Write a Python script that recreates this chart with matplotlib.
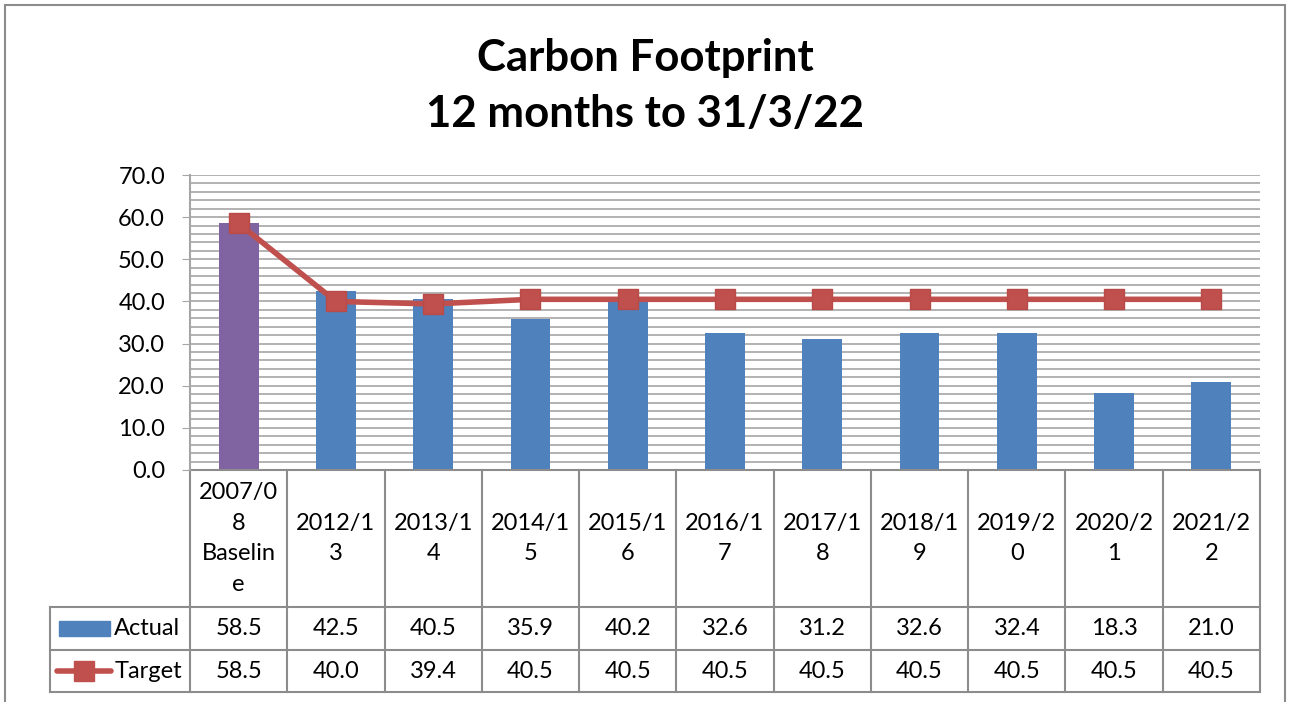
import matplotlib.pyplot as plt
from matplotlib.patches import Rectangle
from matplotlib.lines import Line2D
from matplotlib.transforms import blended_transform_factory

categories = ['2007/0\n8\nBaselin\ne', '2012/1\n3', '2013/1\n4', '2014/1\n5', '2015/1\n6',
              '2016/1\n7', '2017/1\n8', '2018/1\n9', '2019/2\n0', '2020/2\n1', '2021/2\n2']
actual = [58.5, 42.5, 40.5, 35.9, 40.2, 32.6, 31.2, 32.6, 32.4, 18.3, 21.0]
target = [58.5, 40.0, 39.4, 40.5, 40.5, 40.5, 40.5, 40.5, 40.5, 40.5, 40.5]
bar_colors = ['#8064A2'] + ['#4F81BD'] * (len(actual) - 1)

plt.rcParams['font.family'] = ['Lato', 'DejaVu Sans']
W, H = 1290, 702
fs = 17
fig = plt.figure(figsize=(W / 100, H / 100), dpi=100)

# outer chart frame
fig.patches.append(Rectangle((5 / W, -0.05), 1280 / W, 1.05 - 5 / H, transform=fig.transFigure,
                             fill=False, edgecolor='#8C8C8C', linewidth=1.5))

left, right, top, bottom = 190, 1260, 175, 470
ax = fig.add_axes([left / W, 1 - bottom / H, (right - left) / W, (bottom - top) / H])

x = list(range(len(categories)))
ax.bar(x, actual, width=0.41, color=bar_colors, zorder=2)
ax.plot(x, target, color='#C0504D', linewidth=4, marker='s', markersize=14,
        markerfacecolor='#C0504D', markeredgecolor='#B84A47', zorder=3)

ax.set_xlim(-0.5, len(categories) - 0.5)
ax.set_ylim(0, 70)
ax.set_yticks(range(0, 71, 10))
ax.set_yticklabels([f'{v:.1f}' for v in range(0, 71, 10)], fontsize=fs)
ax.set_yticks(range(0, 71, 2), minor=True)
ax.grid(axis='y', which='both', color='#A6A6A6', linewidth=1.2, zorder=0)
ax.set_axisbelow(True)
ax.tick_params(axis='y', which='major', length=6, color='#A6A6A6', pad=12)
ax.tick_params(axis='y', which='minor', length=0)
ax.set_xticks([])
for s in ['top', 'right', 'bottom']:
    ax.spines[s].set_visible(False)
ax.spines['left'].set_color('#A6A6A6')
ax.spines['left'].set_linewidth(1.5)

# data table under the plot
tr = blended_transform_factory(ax.transData, ax.transAxes)
ph = bottom - top
def yfrac(py):
    return (bottom - py) / ph

y_hdr, y_act, y_tgt = yfrac(607), yfrac(650), yfrac(692)
x_leg = -0.5 - (left - 50) / ((right - left) / len(categories))
gc = '#8C8C8C'
def hline(x0, x1, y):
    ax.add_line(Line2D([x0, x1], [y, y], transform=tr, color=gc, lw=1.5, clip_on=False))
def vline(xv, y0, y1):
    ax.add_line(Line2D([xv, xv], [y0, y1], transform=tr, color=gc, lw=1.5, clip_on=False))

n = len(categories)
hline(-0.5, n - 0.5, 0)
hline(x_leg, n - 0.5, y_hdr)
hline(x_leg, n - 0.5, y_act)
hline(x_leg, n - 0.5, y_tgt)
for i in range(n + 1):
    vline(i - 0.5, 0, y_tgt)
vline(x_leg, y_hdr, y_tgt)

for i, c in enumerate(categories):
    ax.text(i, (0 + y_hdr) / 2, c, transform=tr, ha='center', va='center',
            fontsize=fs, linespacing=1.55)
    ax.text(i, (y_hdr + y_act) / 2, f'{actual[i]:.1f}', transform=tr,
            ha='center', va='center', fontsize=fs)
    ax.text(i, (y_act + y_tgt) / 2, f'{target[i]:.1f}', transform=tr,
            ha='center', va='center', fontsize=fs)

# legend keys inside the table
ya, yt = (y_hdr + y_act) / 2, (y_act + y_tgt) / 2
ax.add_patch(Rectangle((x_leg + 0.09, ya - 0.025), 0.53, 0.05, transform=tr,
                       color='#4F81BD', clip_on=False))
ax.add_line(Line2D([x_leg + 0.07, x_leg + 0.63], [yt, yt], transform=tr, color='#C0504D',
                   lw=4, clip_on=False, solid_capstyle='round'))
ax.add_line(Line2D([x_leg + 0.35], [yt], transform=tr, marker='s', markersize=14,
                   color='#C0504D', clip_on=False))
ax.text(x_leg + 0.66, ya, 'Actual', transform=tr, ha='left', va='center', fontsize=fs)
ax.text(x_leg + 0.66, yt, 'Target', transform=tr, ha='left', va='center', fontsize=fs)

fig.text(0.5, 1 - 86 / H, 'Carbon Footprint\n12 months to 31/3/22', ha='center', va='center',
         fontsize=31.5, fontweight='bold', linespacing=1.5)

fig.savefig('out.png', dpi=100)
